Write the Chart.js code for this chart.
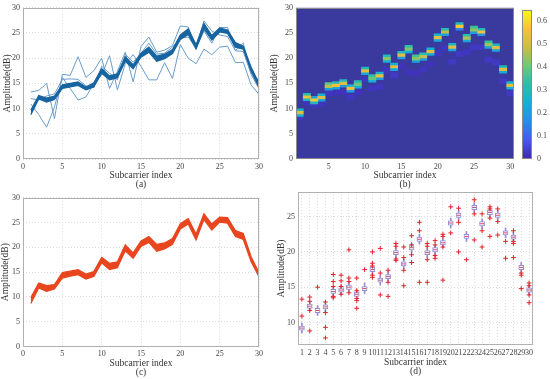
<!DOCTYPE html>
<html><head><meta charset="utf-8">
<script src="https://cdn.jsdelivr.net/npm/chart.js@4/dist/chart.umd.min.js"></script>
<style>
html,body{margin:0;padding:0;background:#fff;}
body{width:550px;height:379px;position:relative;overflow:hidden;}
canvas{position:absolute;}
</style></head><body>
<canvas id="ca" width="270" height="190" style="left:0;top:0"></canvas>
<canvas id="cb" width="250" height="190" style="left:268px;top:0"></canvas>
<canvas id="cbar" width="34" height="190" style="left:516px;top:0"></canvas>
<canvas id="cc" width="270" height="189" style="left:0;top:190px"></canvas>
<canvas id="cd" width="282" height="195" style="left:268px;top:184px"></canvas>
<script>
// ---------------- DATA ----------------
const subcarriers = [1,2,3,4,5,6,7,8,9,10,11,12,13,14,15,16,17,18,19,20,21,22,23,24,25,26,27,28,29,30];

// (a) blue band envelope and outlier lines
const bandALow  = [8.8,11.9,11.3,11.8,14.0,14.3,14.6,13.7,14.3,17.0,15.7,16.1,19.4,17.9,20.2,21.2,19.4,19.9,20.9,23.7,24.7,21.8,25.8,23.6,25.2,24.9,22.2,21.8,17.4,14.2];
const bandAHigh = [9.7,12.6,12.1,12.5,14.7,15.0,15.3,14.3,15.1,17.9,16.5,16.9,20.3,18.7,21.0,22.2,20.4,20.8,21.7,24.6,25.8,22.7,26.9,24.5,26.0,25.6,23.1,22.4,18.2,15.0];
const lineA1 = [13.3,13.6,15.0,8.0,16.8,16.6,20.3,16.2,17.5,20.0,14.0,17.4,21.2,15.3,22.3,24.2,21.2,21.6,22.5,26.4,26.2,22.2,27.4,25.4,24.6,24.3,21.5,21.3,16.8,13.9];
const lineA2 = [10.9,8.8,6.3,10.3,16.2,14.0,11.7,12.3,15.0,16.7,20.5,13.7,18.9,20.7,18.4,15.7,15.7,19.1,16.0,22.7,20.0,18.9,21.8,20.7,22.2,22.4,19.1,19.2,14.7,12.8];
const lineA3 = [12.0,11.7,12.5,12.9,15.8,15.9,15.8,14.5,14.2,18.4,17.0,15.7,20.8,19.2,21.0,23.0,20.8,21.0,22.2,24.0,24.2,22.0,25.4,23.0,26.1,26.1,21.5,23.0,17.0,15.6];

// (b) heat map: centre level and cell intensities
const heatCenter = [9.2,12.3,11.7,12.2,14.4,14.6,15.0,14.0,14.8,17.5,16.0,16.5,19.9,18.3,20.6,21.8,19.9,20.3,21.3,24.1,25.2,22.2,26.3,24.0,25.6,25.2,22.7,22.1,17.8,14.6];
const heatMid  = [0.52,0.55,0.58,0.52,0.47,0.56,0.52,0.54,0.40,0.52,0.40,0.54,0.43,0.52,0.52,0.42,0.43,0.48,0.52,0.52,0.47,0.52,0.58,0.46,0.43,0.55,0.44,0.52,0.52,0.52];
const heatUp   = [0.28,0.32,0.22,0.26,0.38,0.30,0.30,0.25,0.32,0.28,0.33,0.26,0.30,0.25,0.28,0.33,0.35,0.32,0.25,0.28,0.32,0.27,0.30,0.33,0.35,0.30,0.34,0.27,0.28,0.25];
const heatDown = [0.25,0.28,0.30,0.22,0.20,0.22,0.18,0.20,0.25,0.22,0.25,0.20,0.24,0.22,0.20,0.24,0.22,0.20,0.22,0.22,0.20,0.22,0.15,0.22,0.20,0.18,0.22,0.22,0.22,0.24];
const heatFaintLevel = [8.4,11.2,10.8,11.0,13.0,13.2,13.3,12.3,13.2,15.8,14.0,14.3,17.6,16.6,18.4,17.2,17.0,17.8,18.8,21.0,22.0,19.3,20.8,21.2,22.2,22.2,19.7,19.2,15.5,13.0];
const heatFaintVal   = [0.03,0.025,0.025,0.025,0.025,0.02,0.02,0.025,0.02,0.025,0.025,0.025,0.025,0.03,0.02,0.02,0.02,0.025,0.02,0.025,0.025,0.03,0.03,0.025,0.03,0.03,0.03,0.03,0.03,0.03];

// (c) red band envelope
const bandCLow  = [8.7,11.8,11.1,11.6,13.8,14.2,14.5,13.6,14.1,16.9,15.5,15.9,19.3,17.8,20.2,21.0,19.2,19.7,20.6,23.7,24.7,21.5,25.6,23.5,25.1,24.9,22.2,21.6,17.1,14.1];
const bandCHigh = [9.9,12.8,12.3,12.5,14.9,15.2,15.5,14.6,15.1,18.0,16.8,17.1,20.5,18.9,21.3,22.2,20.6,20.9,21.8,24.8,25.8,22.7,26.8,24.7,26.1,26.0,23.4,22.8,18.1,14.9];

// (d) box plot
const boxMedian   = [9.2,12.3,11.7,12.2,14.4,14.6,15.0,14.0,14.8,17.5,16.0,16.5,19.9,18.3,20.6,21.8,19.9,20.3,21.3,24.1,25.2,22.2,26.3,24.0,25.6,25.2,22.7,22.1,17.8,14.6];
const boxQ1       = [8.9,12.0,11.4,11.9,14.1,14.3,14.7,13.7,14.5,17.2,15.7,16.2,19.6,18.0,20.3,21.5,19.6,20.0,21.0,23.8,24.9,21.9,26.0,23.7,25.3,24.9,22.4,21.8,17.5,14.3];
const boxQ3       = [9.5,12.6,12.0,12.5,14.7,14.9,15.3,14.3,15.1,17.8,16.3,16.8,20.2,18.6,20.9,22.1,20.2,20.6,21.6,24.4,25.5,22.5,26.6,24.3,25.9,25.5,23.0,22.4,18.1,14.9];
const whiskerLow  = [8.5,11.6,11.0,11.5,13.7,13.9,14.3,13.3,14.1,16.8,15.3,15.8,19.2,17.6,19.9,21.1,19.2,19.6,20.6,23.4,24.5,21.5,25.6,23.3,24.9,24.5,22.0,21.4,17.1,13.9];
const whiskerHigh = [9.9,13.0,12.4,12.9,15.1,15.3,15.7,14.7,15.6,18.2,16.7,17.2,20.6,19.0,21.3,22.5,20.6,21.0,22.0,24.8,25.9,22.9,27.0,24.7,26.3,25.9,23.4,22.8,18.5,15.3];
const outlierX = [1,1, 2,2,2,2, 3, 4,4,4,4, 5,5,5,5,5, 6,6,6,6, 7,7,7,7, 8,8,8,8,8, 9, 10,10,10,10,10, 11,11,11, 12,12,12, 13,13,13,13, 14,14,14,14, 15,15,15,15, 16,16,16, 17,17,17,17, 18,18,18,18, 19,19,19,19, 20,20, 21,21,21, 22, 23,23,23, 24,24,24, 25,25,25,25, 26,26,26, 27,27, 28,28,28,28, 29,29,29, 30,30,30,30];
const outlierY = [13.3,10.9, 13.6,13.0,11.7,8.8, 15.0, 12.9,11.4,9.3,7.8, 16.8,15.8,15.1,13.7,13.5, 16.7,15.9,15.1,14.0, 20.3,16.3,15.8,14.2, 16.3,14.5,13.4,13.1,12.0, 17.5, 20.0,18.4,18.0,16.7,16.4, 20.5,17.0,13.9, 17.4,15.7,13.7, 21.2,20.8,19.0,18.8, 20.7,19.2,17.4,15.2, 22.3,21.0,19.6,18.5, 24.2,23.0,15.7, 21.2,20.8,18.9,15.7, 21.6,21.0,19.5,19.1, 22.5,22.2,20.7,16.0, 26.4,22.7, 26.2,24.2,20.0, 18.9, 27.4,25.4,21.7, 25.4,23.0,20.7, 26.4,26.1,24.8,22.2, 26.1,24.3,22.4, 21.5,19.1, 23.0,21.5,21.2,19.2, 17.0,16.7,14.8, 15.6,15.2,13.9,12.8];

// tick labels
const ticks0to30 = [0,5,10,15,20,25,30];
const ticks5to30 = [5,10,15,20,25,30];
const colorbarTicks = [0,0.1,0.2,0.3,0.4,0.5,0.6];
const boxYTicks = [10,15,20,25];

// ---------------- STYLE / HELPERS ----------------
const FONT = "'Liberation Serif', 'Times New Roman', serif";
const tickFont = {family: FONT, size: 8};
const titleFont = {family: FONT, size: 9.5, lineHeight: 0.92};
Chart.defaults.animation = false;
Chart.defaults.font.family = FONT;

const PARULA = [
  [0.000,[62,38,168]],[0.125,[70,88,242]],[0.250,[40,140,232]],[0.375,[20,176,214]],
  [0.500,[40,190,172]],[0.625,[112,200,118]],[0.750,[205,188,70]],[0.875,[250,192,58]],[1.000,[249,250,20]]
];
const CMAX = 0.65;
function parula(v){
  let t = Math.max(0, Math.min(1, v / CMAX));
  for (let i = 1; i < PARULA.length; i++){
    if (t <= PARULA[i][0]){
      const [t0,c0] = PARULA[i-1], [t1,c1] = PARULA[i];
      const f = (t - t0) / (t1 - t0);
      const c = c0.map((a,k) => Math.round(a + (c1[k]-a)*f));
      return `rgb(${c[0]},${c[1]},${c[2]})`;
    }
  }
  return 'rgb(249,250,20)';
}

const framePlugin = {
  id: 'frame',
  afterDraw(chart, args, opts){
    const {ctx, chartArea: a} = chart;
    ctx.save();
    ctx.strokeStyle = opts.color || '#b0b0b0';
    ctx.lineWidth = 1;
    const l = Math.round(a.left)+0.5, t = Math.round(a.top)+0.5;
    ctx.strokeRect(l, t, Math.round(a.right)-1-Math.round(a.left), Math.round(a.bottom)-1-Math.round(a.top));
    ctx.restore();
  }
};
const areaBgPlugin = {
  id: 'areaBg',
  beforeDatasetsDraw(chart, args, opts){
    if (!opts.color) return;
    const {ctx, chartArea: a} = chart;
    ctx.save(); ctx.fillStyle = opts.color;
    ctx.fillRect(a.left, a.top, a.right-a.left, a.bottom-a.top);
    ctx.restore();
  }
};

function xScale({min, max, ticks, height, title, titlePadBottom, grid = true}){
  return {
    type: 'linear', min, max, offset: false,
    afterBuildTicks: ax => { ax.ticks = ticks.map(v => ({value: v})); },
    afterFit: ax => { ax.height = height; },
    ticks: {font: tickFont, color: '#444', padding: 3, autoSkip: false, maxRotation: 0, minRotation: 0, callback: v => String(v)},
    grid: {display: grid, color: '#dcdcdc', lineWidth: 1, drawTicks: false, offset: false},
    border: {display: false, dash: [1,2]},
    title: {display: true, text: title, font: titleFont, color: '#333', padding: {top: 0, bottom: titlePadBottom}}
  };
}
function yScale({min, max, ticks, width, titlePad, grid = true}){
  return {
    type: 'linear', min, max,
    afterBuildTicks: ax => { ax.ticks = ticks.map(v => ({value: v})); },
    afterFit: ax => { ax.width = width; },
    ticks: {font: tickFont, color: '#444', padding: 3, autoSkip: false, callback: v => String(v)},
    grid: {display: grid, color: '#dcdcdc', lineWidth: 1, drawTicks: false},
    border: {display: false, dash: [1,2]},
    title: {display: true, text: 'Amplitude(dB)', font: titleFont, color: '#333', padding: {top: titlePad, bottom: 0}}
  };
}
const pts = arr => arr.map((v,i) => ({x: subcarriers[i], y: v}));
const noLegend = {legend: {display: false}, tooltip: {enabled: false}};

// ---------------- (a) ----------------
const blue = '#17649f', lightBlue = '#6a9ccb';
new Chart(document.getElementById('ca'), {
  type: 'line',
  data: { datasets: [
    {data: pts(lineA1), borderColor: lightBlue, borderWidth: 1, pointRadius: 0, fill: false, tension: 0, order: 3},
    {data: pts(lineA2), borderColor: lightBlue, borderWidth: 1, pointRadius: 0, fill: false, tension: 0, order: 3},
    {data: pts(lineA3), borderColor: lightBlue, borderWidth: 1, pointRadius: 0, fill: false, tension: 0, order: 3},
    {data: pts(bandALow), borderColor: blue, borderWidth: 1.2, pointRadius: 0, fill: false, tension: 0, order: 1},
    {data: pts(bandAHigh), borderColor: blue, borderWidth: 1.2, pointRadius: 0, fill: '-1', backgroundColor: blue, tension: 0, order: 1}
  ]},
  options: {
    responsive: false, animation: false,
    layout: {padding: {left: 0, top: 7, right: 11, bottom: 0}},
    plugins: {...noLegend, frame: {}},
    scales: {
      x: xScale({min: 0, max: 30, ticks: ticks0to30, height: 31, title: ['Subcarrier index','(a)'], titlePadBottom: 1.6}),
      y: yScale({min: 0, max: 30, ticks: ticks0to30, width: 23, titlePad: 3.6})
    }
  },
  plugins: [framePlugin]
});

// ---------------- (b) ----------------
const cellData = (lo, hi) => subcarriers.map((s,i) => ({x: s, y: [lo(i), hi(i)]}));
const cellSet = (data, vals, order) => ({
  type: 'bar', data, backgroundColor: vals.map(parula), borderWidth: 0,
  barPercentage: 1, categoryPercentage: 1, grouped: false, order
});
new Chart(document.getElementById('cb'), {
  type: 'bar',
  data: { datasets: [
    cellSet(cellData(i => heatFaintLevel[i]-0.5, i => heatFaintLevel[i]+0.5), heatFaintVal, 4),
    cellSet(cellData(i => heatCenter[i]-0.75, i => heatCenter[i]-0.25), heatDown, 3),
    cellSet(cellData(i => heatCenter[i]+0.25, i => heatCenter[i]+0.75), heatUp, 2),
    cellSet(cellData(i => heatCenter[i]-0.25, i => heatCenter[i]+0.25), heatMid, 1)
  ]},
  options: {
    responsive: false, animation: false,
    layout: {padding: {left: 0, top: 7, right: 4, bottom: 0}},
    plugins: {...noLegend, frame: {color: '#8a8a8a'}, areaBg: {color: 'rgb(58,58,158)'}},
    scales: {
      x: xScale({min: 0.5, max: 30.5, ticks: ticks5to30, height: 31, title: ['Subcarrier index','(b)'], titlePadBottom: 1.6, grid: false}),
      y: yScale({min: 0, max: 30, ticks: ticks0to30, width: 28, titlePad: 2.6, grid: false})
    }
  },
  plugins: [areaBgPlugin, framePlugin]
});

// colour bar (legend of panel b)
const colorbarPlugin = {
  id: 'cbarFill',
  beforeDatasetsDraw(chart){
    const {ctx, chartArea: a, scales: {y}} = chart;
    const y0 = y.getPixelForValue(0), y1 = y.getPixelForValue(CMAX);
    const g = ctx.createLinearGradient(0, y0, 0, y1);
    PARULA.forEach(([t, c]) => g.addColorStop(t, `rgb(${c[0]},${c[1]},${c[2]})`));
    ctx.save(); ctx.fillStyle = g; ctx.fillRect(a.left, a.top, a.right-a.left, a.bottom-a.top); ctx.restore();
  }
};
new Chart(document.getElementById('cbar'), {
  type: 'bar',
  data: {labels: [''], datasets: [{data: [null]}]},
  options: {
    responsive: false, animation: false,
    layout: {padding: {left: 6, top: 7, right: 0, bottom: 31}},
    plugins: {...noLegend, frame: {color: '#8a8a8a'}},
    scales: {
      x: {display: false},
      y: {type: 'linear', position: 'right', min: 0, max: CMAX,
          afterBuildTicks: ax => { ax.ticks = colorbarTicks.map(v => ({value: v})); },
          afterFit: ax => { ax.width = 18; },
          ticks: {font: tickFont, color: '#444', padding: 5, callback: v => String(v)},
          grid: {display: false, drawTicks: false}, border: {display: false}}
    }
  },
  plugins: [colorbarPlugin, framePlugin]
});

// ---------------- (c) ----------------
const red = '#e8461f';
new Chart(document.getElementById('cc'), {
  type: 'line',
  data: { datasets: [
    {data: pts(bandCLow), borderColor: red, borderWidth: 1.2, pointRadius: 0, fill: false, tension: 0},
    {data: pts(bandCHigh), borderColor: red, borderWidth: 1.2, pointRadius: 0, fill: '-1', backgroundColor: red, tension: 0}
  ]},
  options: {
    responsive: false, animation: false,
    layout: {padding: {left: 0, top: 6, right: 11, bottom: 0}},
    plugins: {...noLegend, frame: {}},
    scales: {
      x: xScale({min: 0, max: 30, ticks: ticks0to30, height: 32.5, title: ['Subcarrier index','(c)'], titlePadBottom: 2.4}),
      y: yScale({min: 0, max: 30, ticks: ticks0to30, width: 23, titlePad: 1.6})
    }
  },
  plugins: [framePlugin]
});

// ---------------- (d) ----------------
const lav = '#958bd6', outRed = '#e3222c';
new Chart(document.getElementById('cd'), {
  type: 'bar',
  data: { datasets: [
    {type: 'bar', data: subcarriers.map((s,i) => ({x: s, y: [whiskerLow[i], whiskerHigh[i]]})),
     backgroundColor: lav, borderWidth: 0, barThickness: 1, grouped: false, order: 4},
    {type: 'bar', data: subcarriers.map((s,i) => ({x: s, y: [boxQ1[i], boxQ3[i]]})),
     backgroundColor: '#ffffff', borderColor: lav, borderWidth: 1, borderSkipped: false, barThickness: 5, grouped: false, order: 3},
    {type: 'scatter', data: pts(boxMedian), pointStyle: 'line', pointRadius: 2, borderColor: '#c8506a', borderWidth: 1, order: 2},
    {type: 'scatter', data: outlierX.map((x,i) => ({x, y: outlierY[i]})), pointStyle: 'cross', pointRadius: 2.4,
     borderColor: outRed, backgroundColor: outRed, borderWidth: 1, order: 1}
  ]},
  options: {
    responsive: false, animation: false,
    layout: {padding: {left: 0, top: 8, right: 17, bottom: 0}},
    plugins: {...noLegend, frame: {}},
    scales: {
      x: xScale({min: 0.5, max: 30.5, ticks: subcarriers, height: 34, title: ['Subcarrier index','(d)'], titlePadBottom: 3}),
      y: yScale({min: 6.8, max: 28.5, ticks: boxYTicks, width: 30, titlePad: 8.7})
    }
  },
  plugins: [framePlugin]
});
</script>
</body></html>
